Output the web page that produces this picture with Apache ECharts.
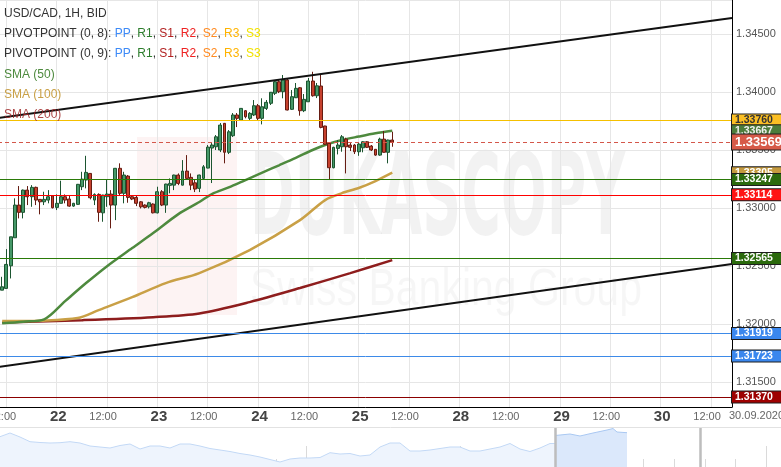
<!DOCTYPE html>
<html><head><meta charset="utf-8">
<script src="https://cdn.jsdelivr.net/npm/echarts/dist/echarts.min.js"></script>
<style>html,body{margin:0;padding:0;background:#fff}#c{width:781px;height:467px}</style>
</head><body><div id="c"></div>
<script>
// ---------- categories (hourly trading slots, weekend skipped) ----------
const tradingDays = ['21','22','23','24','25','28','29','30'];
const firstHour = 10, lastHour = 17;
const categories = [];
tradingDays.forEach((d, di) => {
  const h0 = di === 0 ? firstHour : 0;
  const h1 = di === tradingDays.length - 1 ? lastHour : 23;
  for (let h = h0; h <= h1; h++) categories.push(d + ' ' + String(h).padStart(2, '0') + ':00');
});
const candleStart = '21 11:00';

// ---------- candles [open, close, low, high] ----------
const candles = [
[1.32292,1.32321,1.32292,1.32407],[1.32307,1.32514,1.32307,1.32646],[1.32502,1.32752,1.32393,1.32752],
[1.32744,1.33026,1.32744,1.33084],[1.33026,1.32963,1.32911,1.33190],[1.32963,1.33155,1.32911,1.33160],
[1.33155,1.33098,1.33026,1.33190],[1.33098,1.33179,1.33011,1.33198],[1.33179,1.33069,1.33026,1.33185],
[1.33075,1.33054,1.32946,1.33078],[1.33054,1.33075,1.33026,1.33141],[1.33069,1.33098,1.33041,1.33155],
[1.33106,1.33003,1.32997,1.33110],[1.33006,1.33041,1.32983,1.33118],[1.33041,1.33098,1.33041,1.33236],
[1.33098,1.33069,1.33041,1.33118],[1.33078,1.33017,1.33011,1.33112],[1.33017,1.33041,1.33011,1.33045],
[1.33032,1.33205,1.33028,1.33208],[1.33184,1.33250,1.33155,1.33313],[1.33242,1.33308,1.33170,1.33451],
[1.33299,1.33089,1.33075,1.33302],[1.33069,1.33118,1.33026,1.33127],[1.33118,1.32963,1.32882,1.33127],
[1.32959,1.33112,1.32882,1.33115],[1.33098,1.33121,1.33011,1.33242],[1.33121,1.33026,1.32825,1.33155],
[1.33026,1.33343,1.32896,1.33346],[1.33343,1.33127,1.33112,1.33386],[1.33127,1.33285,1.33041,1.33313],
[1.33276,1.33092,1.33046,1.33285],[1.33098,1.33078,1.33069,1.33104],[1.33092,1.33041,1.33017,1.33104],
[1.33054,1.33011,1.32997,1.33060],[1.33026,1.33006,1.32997,1.33032],[1.33011,1.33046,1.32997,1.33054],
[1.33035,1.32959,1.32954,1.33041],[1.32959,1.33141,1.32954,1.33184],[1.33141,1.33026,1.33017,1.33155],
[1.33026,1.33207,1.32959,1.33210],[1.33196,1.33213,1.33127,1.33256],[1.33198,1.33285,1.33155,1.33288],
[1.33285,1.33213,1.33198,1.33299],[1.33198,1.33319,1.33195,1.33414],[1.33319,1.33256,1.33253,1.33457],
[1.33265,1.33198,1.33155,1.33299],[1.33218,1.33164,1.33138,1.33242],[1.33170,1.33285,1.33138,1.33288],
[1.33256,1.33356,1.33242,1.33371],[1.33345,1.33526,1.33343,1.33544],[1.33518,1.33544,1.33216,1.33561],
[1.33529,1.33615,1.33501,1.33630],[1.33501,1.33716,1.33483,1.33734],[1.33731,1.33481,1.33386,1.33734],
[1.33481,1.33658,1.33466,1.33673],[1.33624,1.33803,1.33613,1.33820],[1.33803,1.33774,1.33699,1.33820],
[1.33759,1.33860,1.33751,1.33863],[1.33840,1.33788,1.33774,1.33846],[1.33774,1.33817,1.33759,1.33828],
[1.33803,1.33883,1.33794,1.33932],[1.33883,1.33774,1.33759,1.33898],[1.33774,1.33874,1.33722,1.33947],
[1.33860,1.33912,1.33846,1.33932],[1.33904,1.33999,1.33889,1.34001],[1.33990,1.34090,1.33975,1.34105],
[1.34090,1.34004,1.33992,1.34105],[1.34004,1.34105,1.33947,1.34148],[1.34105,1.33846,1.33843,1.34122],
[1.33852,1.33961,1.33846,1.34018],[1.33952,1.34033,1.33949,1.34079],[1.34038,1.33840,1.33797,1.34044],
[1.33840,1.33938,1.33828,1.33984],[1.33917,1.34096,1.33915,1.34122],[1.34096,1.33969,1.33961,1.34176],
[1.33969,1.34055,1.33949,1.34079],[1.34053,1.33696,1.33688,1.34148],[1.33708,1.33550,1.33544,1.33710],
[1.33558,1.33348,1.33242,1.33561],[1.33348,1.33524,1.33343,1.33529],[1.33515,1.33544,1.33463,1.33587],
[1.33529,1.33615,1.33486,1.33630],[1.33595,1.33529,1.33299,1.33607],[1.33544,1.33524,1.33492,1.33561],
[1.33544,1.33486,1.33466,1.33552],[1.33486,1.33552,1.33451,1.33561],[1.33520,1.33572,1.33481,1.33578],
[1.33572,1.33524,1.33518,1.33578],[1.33535,1.33501,1.33492,1.33544],[1.33507,1.33457,1.33451,1.33509],
[1.33457,1.33595,1.33451,1.33607],[1.33595,1.33481,1.33478,1.33665],[1.33481,1.33587,1.33386,1.33590],
[1.33587,1.33569,1.33529,1.33658]
];

// ---------- moving averages [time, value] ----------
const sma50 = [
['21 11:00',1.32007],['21 16:00',1.32020],['21 21:00',1.32040],['22 02:00',1.32197],['22 07:00',1.32353],
['22 12:00',1.32499],['22 18:00',1.32655],['22 23:00',1.32784],['23 05:00',1.32948],['23 10:00',1.33052],
['23 13:00',1.33121],['23 17:00',1.33178],['23 21:00',1.33242],['24 01:00',1.33306],['24 05:00',1.33369],
['24 09:00',1.33433],['24 13:00',1.33501],['24 16:00',1.33544],['24 20:00',1.33587],['25 00:00',1.33617],
['25 04:00',1.33645],['25 08:00',1.33667]
];
const sma100 = [
['21 11:00',1.32025],['21 20:00',1.32029],['22 05:00',1.32051],['22 10:00',1.32120],['22 18:00',1.32232],
['23 02:00',1.32353],['23 10:00',1.32439],['23 22:00',1.32638],['24 10:00',1.32896],['24 16:00',1.33069],
['24 20:00',1.33129],['25 00:00',1.33173],['25 04:00',1.33233],['25 08:00',1.33305]
];
const sma200 = [
['21 11:00',1.32012],['22 06:00',1.32033],['22 23:00',1.32059],['23 10:00',1.32091],['23 22:00',1.32189],
['24 10:00',1.32310],['24 22:00',1.32439],['25 08:00',1.32551]
];

// ---------- trend lines ----------
const upperTrend = [['21 10:00',1.33777],['30 17:00',1.34640]];
const lowerTrend = [['21 10:00',1.31629],['30 17:00',1.32518]];

// ---------- pivot levels ----------
const levelValues = [1.33760, 1.33247, 1.33114, 1.32565, 1.31919, 1.31723, 1.31370];
const levelLineColors = ['#f5c000','#2a7a08','#ff0000','#2a7a08','#3d8ae8','#3d8ae8','#8b0000'];
const levelBoxColors  = ['#fbbf24','#2b6a0d','#ff1414','#2b6a0d','#3a87ee','#3a87ee','#9e0000'];
const levelTextColors = ['#333','#fff','#fff','#fff','#fff','#fff','#fff'];

// ---------- navigator ----------
const navHeights = [30.3,34,30,25.3,24.5,24,24.3,25.3,24,21,20,19,21.5,23,18,21,21,19,23,23,21,18.5,17,15.5,13.5,12,10,7.5,5,8,9,9,9.5,14.3,13,13.5,11,12,20,24,24,16,16,17,18.5,20,20,16,16,18,20,23.5,18,15.5,19,23.5];
const navSelX = [55.5,57,58,59.3,60.7,61.3,61.7,62.7];
const navSelH = [31.5,33,31,34,37,38.5,35,34.3];
const navWindow = [55.5, 70];

// ---------- build ----------
const startIdx = categories.indexOf(candleStart);
const candleData = candles.map((c, k) => [categories[startIdx + k], c[0], c[1], c[2], c[3]]);
const lastClose = candles[candles.length - 1][1];

const isMajor = (i, v) => { const t = (v || categories[i]).split(' ')[1]; return t === '00:00' || t === '12:00'; };

function boxLabel(text, bg, fg, big) {
  return {
    show: true, position: 'end', distance: 0, formatter: text,
    color: fg, backgroundColor: bg, borderColor: '#1e1e1e', borderWidth: 1,
    fontSize: big ? 13 : 10.5, fontWeight: 'bold', padding: big ? [1, 2, 1, 3] : [1, 2, 0, 3],
    width: big ? 45 : 44, lineHeight: big ? 13 : 10
  };
}
const mlData = [];
mlData.push([{coord: upperTrend[0]}, {coord: upperTrend[1]}]);
mlData.push([{coord: lowerTrend[0]}, {coord: lowerTrend[1]}]);
const hLines = [];
levelValues.forEach((v, i) => {
  hLines.push({yAxis: v, lineStyle: {color: levelLineColors[i], width: 1, type: 'solid'},
    label: boxLabel(v.toFixed(5), levelBoxColors[i], levelTextColors[i])});
});
const sma50Last = sma50[sma50.length - 1][1], sma100Last = sma100[sma100.length - 1][1];
const smaBoxes = [
  {yAxis: sma50Last, lineStyle: {color: 'rgba(0,0,0,0)', width: 0.1}, label: boxLabel(sma50Last.toFixed(5), '#4c7d3b', '#f0f0f0')},
  {yAxis: sma100Last, lineStyle: {color: 'rgba(0,0,0,0)', width: 0.1}, label: boxLabel(sma100Last.toFixed(5), '#c49a3e', '#fff')}
];
const order = [hLines[0], smaBoxes[0], smaBoxes[1], hLines[1], hLines[2], hLines[3], hLines[4], hLines[5], hLines[6]];
const currentLine = {yAxis: lastClose, lineStyle: {color: '#d4574a', width: 1, type: [4, 3]},
  label: boxLabel(lastClose.toFixed(5), '#d65a48', '#fff', true)};

const font = '"Liberation Sans", Arial, sans-serif';
const pivotKeys = ['PP','R1','S1','R2','S2','R3','S3'];
const pivotColors = ['#3d8af7','#2d7d2d','#b22222','#ee2222','#ff8a20','#ffb300','#f2e200'];
function pivotText(a, b) {
  return '{k|PIVOTPOINT (' + a + ', ' + b + '): }' + pivotKeys.map((p, i) => '{p' + i + '|' + p + '}').join('{k|, }');
}
const pivotRich = {k: {fill: '#333', fontSize: 12, fontFamily: font}};
pivotKeys.forEach((p, i) => pivotRich['p' + i] = {fill: pivotColors[i], fontSize: 12, fontFamily: font});

const chart = echarts.init(document.getElementById('c'), null, {renderer: 'canvas'});
chart.setOption({
  animation: false,
  textStyle: {fontFamily: font},
  grid: [
    {left: -2, right: 49, top: 0, bottom: 60, outerBoundsMode: 'none', containLabel: false},
    {left: 0, right: 0, top: 428, height: 39, outerBoundsMode: 'none', containLabel: false}
  ],
  xAxis: [
    {type: 'category', gridIndex: 0, data: categories, boundaryGap: false,
     axisLine: {lineStyle: {color: '#000', width: 1}}, axisTick: {show: false},
     axisLabel: {interval: isMajor, margin: 0,
       formatter: v => { const p = v.split(' '); return p[1] === '00:00' ? '{d|' + p[0] + '}' : '{h|12:00}'; },
       rich: {d: {fontSize: 15, fontWeight: 'bold', color: '#444', lineHeight: 20, padding: [0, 0, 0, 3]},
              h: {fontSize: 11, color: '#666', lineHeight: 20, padding: [0, 8, 0, 0]}}},
     splitLine: {show: true, interval: isMajor, lineStyle: {color: '#e6e6e6'}}},
    {type: 'value', gridIndex: 1, min: 0, max: 78.1, interval: 3.065, position: 'bottom',
     axisLine: {show: false}, axisLabel: {show: false}, splitLine: {show: false},
     axisTick: {show: true, inside: true, length: 8, lineStyle: {color: '#dadada'}}},
    {type: 'value', gridIndex: 1, min: 0, max: 78.1, interval: 15.33, position: 'bottom',
     axisLine: {show: false}, axisLabel: {show: false}, splitLine: {show: false},
     axisTick: {show: true, inside: true, length: 21, lineStyle: {color: '#dadada'}}}
  ],
  yAxis: [
    {type: 'value', gridIndex: 0, position: 'right', min: 1.31284, max: 1.34795, splitNumber: 7, scale: true,
     axisLine: {show: true, lineStyle: {color: '#000'}}, axisTick: {show: false},
     axisLabel: {color: '#555', fontSize: 11, margin: 4, showMinLabel: false, showMaxLabel: false,
       formatter: v => v.toFixed(5)},
     splitLine: {lineStyle: {color: '#e6e6e6'}}},
    {type: 'value', gridIndex: 1, min: 0, max: 39, show: false}
  ],
  series: [
    {type: 'line', name: 'SMA200', data: sma200, xAxisIndex: 0, yAxisIndex: 0, showSymbol: false, smooth: 0.3,
     lineStyle: {color: '#8e1d1d', width: 2.5}, z: 1},
    {type: 'line', name: 'SMA100', data: sma100, xAxisIndex: 0, yAxisIndex: 0, showSymbol: false, smooth: 0.3,
     lineStyle: {color: '#c9a046', width: 2.5}, z: 1},
    {type: 'line', name: 'SMA50', data: sma50, xAxisIndex: 0, yAxisIndex: 0, showSymbol: false, smooth: 0.3,
     lineStyle: {color: '#4e8a3e', width: 2.5}, z: 1},
    {type: 'candlestick', data: candleData, encode: {x: 0, y: [1, 2, 3, 4]}, xAxisIndex: 0, yAxisIndex: 0,
     barWidth: 3.4, z: 3,
     itemStyle: {color: '#469868', color0: '#c6412e', borderColor: '#1c5530', borderColor0: '#661c12', borderWidth: 1}},
    {type: 'line', data: [], xAxisIndex: 0, yAxisIndex: 0, z: 4, silent: true,
     markLine: {symbol: ['none', 'none'], silent: true, animation: false, precision: 5,
       label: {show: false}, lineStyle: {color: '#111', width: 2, type: 'solid'},
       data: mlData.concat(order)}},
    {type: 'line', data: [], xAxisIndex: 0, yAxisIndex: 0, z: 5, silent: true,
     markLine: {symbol: ['none', 'none'], silent: true, animation: false, precision: 5, data: [currentLine]}},
    {type: 'line', data: navHeights.map((h, i) => [i, h]).concat([[navWindow[0], navHeights[navHeights.length - 1]]]),
     xAxisIndex: 1, yAxisIndex: 1, showSymbol: false,
     lineStyle: {color: '#c3d9f6', width: 1}, areaStyle: {color: '#eef4fd', opacity: 1},
     markLine: {symbol: ['none', 'none'], silent: true, label: {show: false}, precision: 3,
       lineStyle: {color: '#bdbdbd', width: 2.5, type: 'solid'},
       data: [{xAxis: navWindow[0]}, {xAxis: navWindow[1]}]}},
    {type: 'line', data: navSelX.map((x, i) => [x, navSelH[i]]), xAxisIndex: 1, yAxisIndex: 1, showSymbol: false,
     lineStyle: {color: '#a9c8f2', width: 1}, areaStyle: {color: '#dbe8fb', opacity: 1}}
  ],
  graphic: [
    {type: 'group', left: 137, top: 137, z: -5, silent: true, children: [
      {type: 'rect', shape: {x: 0, y: 0, width: 100, height: 178}, style: {fill: 'rgba(225,90,90,0.07)'}},
      {type: 'text', x: 113, y: 10, scaleY: 1.9, style: {text: 'DUKASCOPY', font: 'bold 60px "DejaVu Sans Condensed", sans-serif', fill: 'rgba(0,0,0,0.05)'}},
      {type: 'text', x: 113, y: 128, scaleY: 1.25, style: {text: 'Swiss Banking Group', font: '41px "Liberation Sans", Arial', fill: 'rgba(0,0,0,0.035)'}}
    ]},
    {type: 'text', left: 4, top: 8, z: 20, style: {text: 'USD/CAD, 1H, BID', font: '12px ' + font, fill: '#333'}},
    {type: 'text', left: 4, top: 28, z: 20, style: {text: pivotText(0, 8), rich: pivotRich, font: '12px ' + font}},
    {type: 'text', left: 4, top: 48, z: 20, style: {text: pivotText(0, 9), rich: pivotRich, font: '12px ' + font}},
    {type: 'text', left: 4, top: 69, z: 20, style: {text: 'SMA (50)', font: '12px ' + font, fill: '#4e8a3e'}},
    {type: 'text', left: 4, top: 89, z: 20, style: {text: 'SMA (100)', font: '12px ' + font, fill: '#c9a046'}},
    {type: 'text', left: 4, top: 109, z: 20, style: {text: 'SMA (200)', font: '12px ' + font, fill: 'rgba(160,40,40,0.85)'}},
    {type: 'text', left: 729, top: 410, z: 20, style: {text: '30.09.2020', font: '11px ' + font, fill: '#666'}},
    {type: 'line', z: 20, shape: {x1: 0, y1: 427.5, x2: 781, y2: 427.5}, style: {stroke: '#e2e2e2', lineWidth: 1}}
  ]
});
</script></body></html>
